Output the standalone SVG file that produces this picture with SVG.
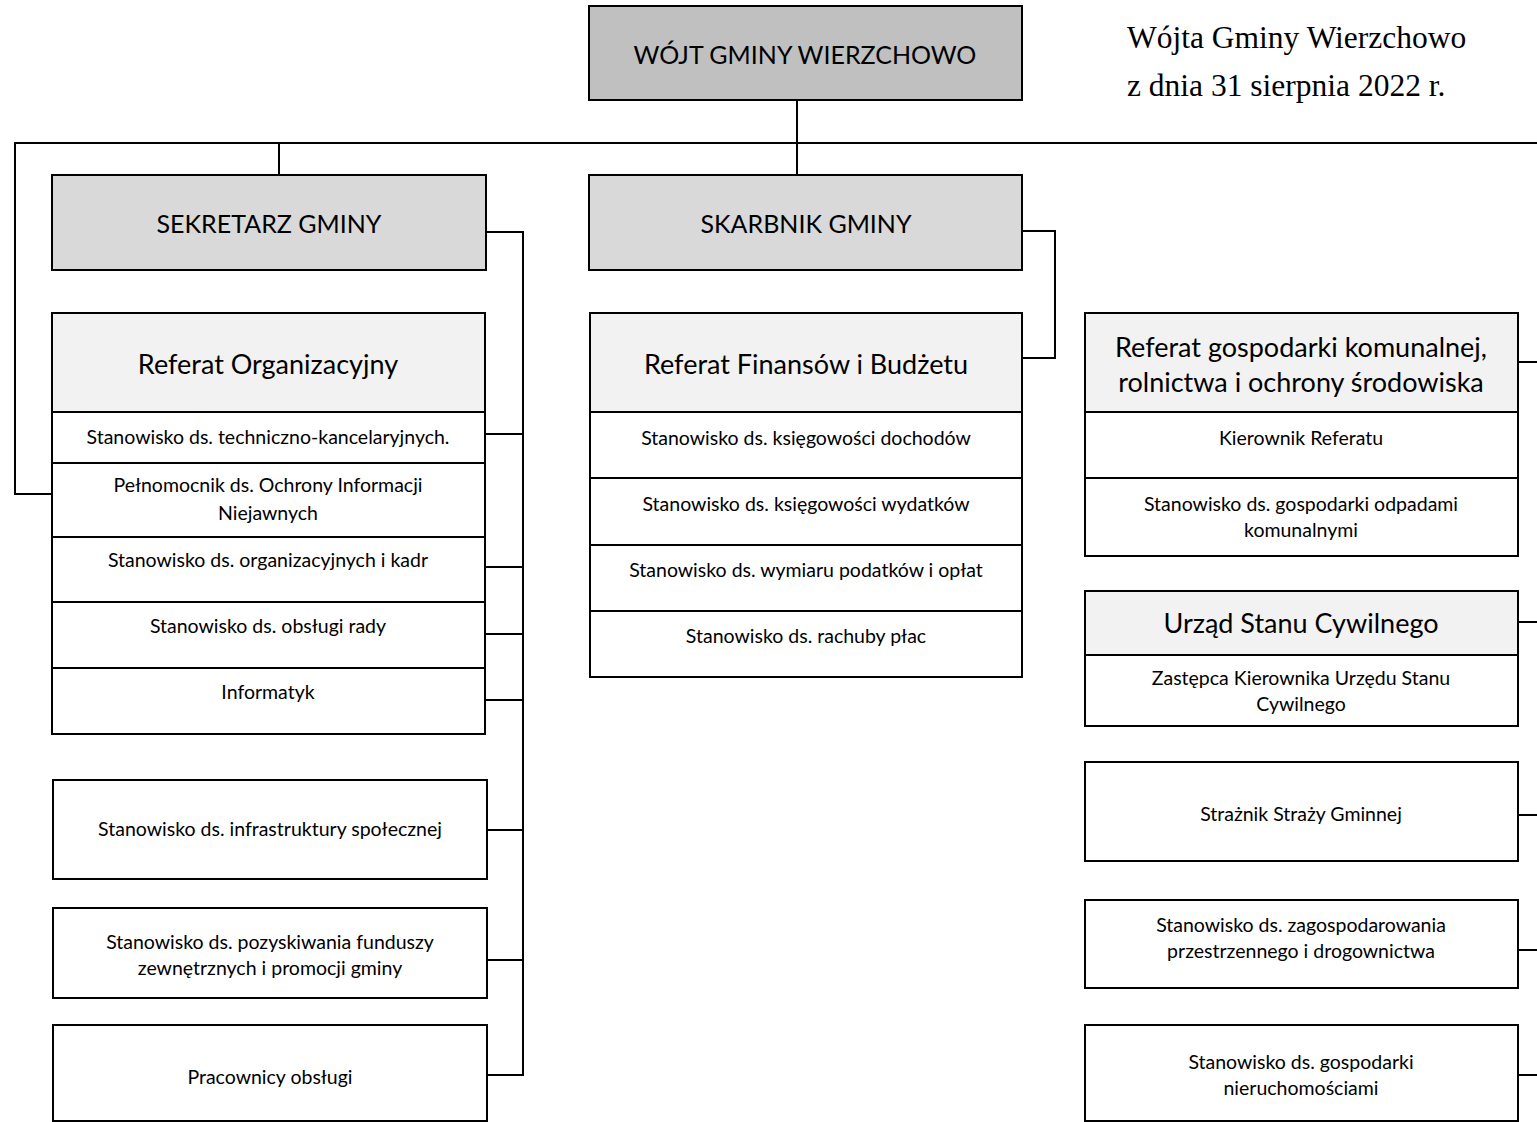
<svg xmlns="http://www.w3.org/2000/svg" width="1537" height="1122" viewBox="0 0 1537 1122">
<style>
.b{stroke:#000;stroke-width:2;fill:#fff}
.g1{fill:#c0c0c0}
.g2{fill:#d9d9d9}
.g3{fill:#f2f2f2}
.c{fill:none;stroke:#000;stroke-width:2}
text{font-family:Lato,"Open Sans","Liberation Sans",sans-serif;fill:#000;text-anchor:middle}
.t1{font-size:25px}
.t2{font-size:27px}
.t3{font-size:19.5px}
.tm{font-family:"Liberation Serif","Times New Roman",serif;font-size:31.5px;text-anchor:start}
</style>
<rect width="1537" height="1122" fill="#fff"/>
<g id="note">
<text class="tm" x="1127" y="48">Wójta Gminy Wierzchowo</text>
<text class="tm" x="1127" y="96">z dnia 31 sierpnia 2022 r.</text>
</g>
<g id="connectors">
<path class="c" d="M797,100 V175"/>
<path class="c" d="M1537,143 H15 V494 H52"/>
<path class="c" d="M279,144 V175"/>
<path class="c" d="M486,232 H523 V1075 H487"/>
<path class="c" d="M485,434 H523 M485,567 H523 M485,634 H523 M485,700 H523 M487,830 H523 M487,960 H523"/>
<path class="c" d="M1022,231 H1055 V358 H1022"/>
<path class="c" d="M1518,362 H1537 M1518,622 H1537 M1518,815 H1537 M1518,950 H1537 M1518,1075 H1537"/>
</g>
<g id="wojt"><rect class="b g1" x="589" y="6" width="433" height="94"/><text class="t1" x="805" y="64">WÓJT GMINY WIERZCHOWO</text></g>
<g id="sekretarz"><rect class="b g2" x="52" y="175" width="434" height="95"/><text class="t1" x="269" y="233">SEKRETARZ GMINY</text></g>
<g id="skarbnik"><rect class="b g2" x="589" y="175" width="433" height="95"/><text class="t1" x="806" y="233">SKARBNIK GMINY</text></g>

<g id="ref-org">
<rect class="b g3" x="52" y="313" width="433" height="99"/><text class="t2" x="268" y="374">Referat Organizacyjny</text>
<rect class="b" x="52" y="412" width="433" height="51"/><text class="t3" x="268" y="444">Stanowisko ds. techniczno-kancelaryjnych.</text>
<rect class="b" x="52" y="463" width="433" height="74"/><text class="t3" x="268" y="492">Pełnomocnik ds. Ochrony Informacji</text><text class="t3" x="268" y="520">Niejawnych</text>
<rect class="b" x="52" y="537" width="433" height="65"/><text class="t3" x="268" y="567">Stanowisko ds. organizacyjnych i kadr</text>
<rect class="b" x="52" y="602" width="433" height="66"/><text class="t3" x="268" y="633">Stanowisko ds. obsługi rady</text>
<rect class="b" x="52" y="668" width="433" height="66"/><text class="t3" x="268" y="699">Informatyk</text>
</g>
<g id="infrastruktura"><rect class="b" x="53" y="780" width="434" height="99"/><text class="t3" x="270" y="836">Stanowisko ds. infrastruktury społecznej</text></g>
<g id="fundusze"><rect class="b" x="53" y="908" width="434" height="90"/><text class="t3" x="270" y="949">Stanowisko ds. pozyskiwania funduszy</text><text class="t3" x="270" y="975">zewnętrznych i promocji gminy</text></g>
<g id="pracownicy"><rect class="b" x="53" y="1025" width="434" height="96"/><text class="t3" x="270" y="1084">Pracownicy obsługi</text></g>

<g id="ref-fin">
<rect class="b g3" x="590" y="313" width="432" height="99"/><text class="t2" x="806" y="374">Referat Finansów i Budżetu</text>
<rect class="b" x="590" y="412" width="432" height="66"/><text class="t3" x="806" y="445">Stanowisko ds. księgowości dochodów</text>
<rect class="b" x="590" y="478" width="432" height="67"/><text class="t3" x="806" y="511">Stanowisko ds. księgowości wydatków</text>
<rect class="b" x="590" y="545" width="432" height="66"/><text class="t3" x="806" y="577">Stanowisko ds. wymiaru podatków i opłat</text>
<rect class="b" x="590" y="611" width="432" height="66"/><text class="t3" x="806" y="643">Stanowisko ds. rachuby płac</text>
</g>

<g id="ref-gk">
<rect class="b g3" x="1085" y="313" width="433" height="99"/><text class="t2" x="1301" y="357">Referat gospodarki komunalnej,</text><text class="t2" x="1301" y="392">rolnictwa i ochrony środowiska</text>
<rect class="b" x="1085" y="412" width="433" height="66"/><text class="t3" x="1301" y="445">Kierownik Referatu</text>
<rect class="b" x="1085" y="478" width="433" height="78"/><text class="t3" x="1301" y="511">Stanowisko ds. gospodarki odpadami</text><text class="t3" x="1301" y="537">komunalnymi</text>
</g>
<g id="usc">
<rect class="b g3" x="1085" y="591" width="433" height="64"/><text class="t2" x="1301" y="633">Urząd Stanu Cywilnego</text>
<rect class="b" x="1085" y="655" width="433" height="71"/><text class="t3" x="1301" y="685">Zastępca Kierownika Urzędu Stanu</text><text class="t3" x="1301" y="711">Cywilnego</text>
</g>
<g id="straz"><rect class="b" x="1085" y="762" width="433" height="99"/><text class="t3" x="1301" y="821">Strażnik Straży Gminnej</text></g>
<g id="zagosp"><rect class="b" x="1085" y="900" width="433" height="88"/><text class="t3" x="1301" y="932">Stanowisko ds. zagospodarowania</text><text class="t3" x="1301" y="958">przestrzennego i drogownictwa</text></g>
<g id="nieruch"><rect class="b" x="1085" y="1025" width="433" height="96"/><text class="t3" x="1301" y="1069">Stanowisko ds. gospodarki</text><text class="t3" x="1301" y="1095">nieruchomościami</text></g>
</svg>
